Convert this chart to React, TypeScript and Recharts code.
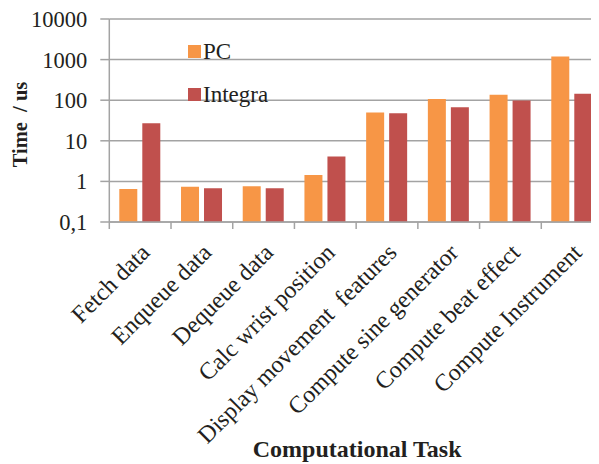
import { Bar, BarChart, CartesianGrid, Legend, XAxis, YAxis } from "recharts";

const TASKS = [
  "Fetch data",
  "Enqueue data",
  "Dequeue data",
  "Calc wrist position",
  "Display movement  features",
  "Compute sine generator",
  "Compute beat effect",
  "Compute Instrument",
];
const PC_TIMES = [0.65, 0.74, 0.76, 1.44, 50, 107, 136, 1200];
const INTEGRA_TIMES = [27, 0.68, 0.68, 4.1, 48, 67, 98, 145];
const Y_TICKS = [0.1, 1, 10, 100, 1000, 10000];

const data = TASKS.map((task, i) => ({ task, pc: PC_TIMES[i], integra: INTEGRA_TIMES[i] }));

const FONT = '"Liberation Serif", "Times New Roman", serif';
const INK = "#231f20";
const GRID = "#a3a3a3";

const CHART_W = 600;
const MARGIN = { top: 11, right: 5, bottom: 0, left: 0 };
const Y_AXIS_W = 101.3;
// width of one category band, used to put tick marks on band edges
const BAND = (CHART_W - MARGIN.left - MARGIN.right - Y_AXIS_W) / TASKS.length;

const fmtTick = (v: number) => (v === 0.1 ? "0,1" : String(v));

const TaskTick = ({ x, y, payload, index }: any) => {
  const tx = x + 11;
  const ty = y + 32;
  const left = x - BAND / 2;
  const right = x + BAND / 2;
  return (
    <g>
      <line x1={left} y1={y} x2={left} y2={y + 7} stroke={GRID} strokeWidth={1.5} />
      {index === TASKS.length - 1 && <line x1={right} y1={y} x2={right} y2={y + 7} stroke={GRID} strokeWidth={1.5} />}
      <text x={tx} y={ty} transform={`rotate(-45, ${tx}, ${ty})`} textAnchor="end" fontFamily={FONT} fontSize={24} fill={INK} style={{ whiteSpace: "pre" }}>
        {payload.value}
      </text>
    </g>
  );
};

const LegendBox = () => (
  <div style={{ fontFamily: FONT, fontSize: 23, color: INK, lineHeight: "23px" }}>
    {[
      { name: "PC", color: "#f79646" },
      { name: "Integra", color: "#c0504d" },
    ].map((it, i) => (
      <div key={it.name} style={{ display: "flex", alignItems: "center", height: 23, marginBottom: i === 0 ? 20 : 0 }}>
        <span style={{ display: "inline-block", width: 13, height: 13, background: it.color, marginRight: 2 }} />
        <span>{it.name}</span>
      </div>
    ))}
  </div>
);

export default function App() {
  return (
    <div style={{ width: 591, height: 456, overflow: "hidden" }}>
      <BarChart width={CHART_W} height={456} data={data} margin={MARGIN} barSize={18} barGap={5}>
        <CartesianGrid vertical={false} stroke={GRID} strokeWidth={1.5} />
        <XAxis
          dataKey="task"
          height={242}
          interval={0}
          tickSize={0}
          tickMargin={0}
          axisLine={{ stroke: GRID, strokeWidth: 1.5 }}
          tickLine={false}
          tick={<TaskTick />}
          label={{
            content: ({ viewBox }: any) => (
              <text x={viewBox.x + viewBox.width / 2 + 1} y={449} textAnchor="middle" fontFamily={FONT} fontSize={24} fontWeight="bold" fill={INK}>
                Computational Task
              </text>
            ),
          }}
        />
        <YAxis
          scale="log"
          domain={[0.1, 10000]}
          ticks={Y_TICKS}
          interval={0}
          allowDataOverflow
          width={Y_AXIS_W}
          tickFormatter={fmtTick}
          tickSize={9}
          tickMargin={13}
          axisLine={{ stroke: GRID, strokeWidth: 1.5 }}
          tickLine={{ stroke: GRID, strokeWidth: 1.5 }}
          tick={{ fontFamily: FONT, fontSize: 22.5, fill: INK }}
          label={{
            content: ({ viewBox }: any) => {
              const cx = 19;
              const cy = viewBox.y + viewBox.height / 2 + 4;
              return (
                <text x={cx} y={cy} transform={`rotate(-90, ${cx}, ${cy})`} textAnchor="middle" fontFamily={FONT} fontSize={20.5} fontWeight="bold" fill={INK} style={{ whiteSpace: "pre" }}>
                  Time  / us
                </text>
              );
            },
          }}
        />
        <Legend
          content={<LegendBox />}
          layout="horizontal"
          verticalAlign="middle"
          wrapperStyle={{ position: "absolute", left: 180, top: 32, width: "auto" }}
        />
        <Bar dataKey="pc" name="PC" fill="#f79646" isAnimationActive={false} />
        <Bar dataKey="integra" name="Integra" fill="#c0504d" isAnimationActive={false} />
      </BarChart>
    </div>
  );
}
